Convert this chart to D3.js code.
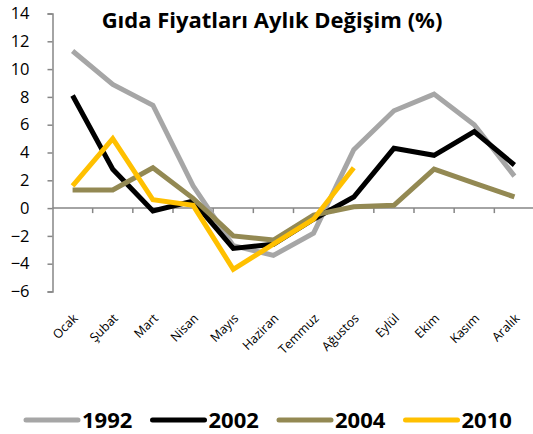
<!DOCTYPE html>
<html>
<head>
<meta charset="utf-8">
<script src="https://cdn.jsdelivr.net/npm/d3@7"></script>
<style>
  body { margin: 0; background: #fff; }
  text { font-family: "Open Sans", sans-serif; }
</style>
</head>
<body>
<div id="chart"></div>
<script>
// months and yearly series (monthly % change)
const months = ['Ocak', 'Şubat', 'Mart', 'Nisan', 'Mayıs', 'Haziran', 'Temmuz', 'Ağustos', 'Eylül', 'Ekim', 'Kasım', 'Aralık'];
const s1992 = [11.3, 8.9, 7.4, 1.6, -2.7, -3.4, -1.8, 4.2, 7.0, 8.2, 6.0, 2.3];
const s2002 = [8.1, 2.8, -0.2, 0.5, -2.9, -2.6, -0.8, 0.8, 4.3, 3.8, 5.5, 3.1];
const s2004 = [1.3, 1.3, 2.9, 0.7, -2.0, -2.3, -0.5, 0.1, 0.2, 2.8, 1.8, 0.8];
const s2010 = [1.6, 5.0, 0.6, 0.2, -4.4, -2.6, -0.8, 2.9];
const yTicks = [-6, -4, -2, 0, 2, 4, 6, 8, 10, 12, 14];

const series = [
  { name: '1992', values: s1992, color: '#A6A6A6' },
  { name: '2002', values: s2002, color: '#000000' },
  { name: '2004', values: s2004, color: '#938953' },
  { name: '2010', values: s2010, color: '#FFC000' }
];

const width = 533, height = 434;
const svg = d3.select('#chart').append('svg')
  .attr('width', width)
  .attr('height', height);

const x = d3.scaleBand().domain(months).range([52.5, 534.5]);
const y = d3.scaleLinear().domain([-6, 14]).range([291.5, 13.5]);

// y axis
const yAxis = svg.append('g')
  .attr('transform', 'translate(52.5,0)')
  .call(d3.axisLeft(y).tickValues(yTicks).tickSize(5).tickPadding(18));
yAxis.select('.domain').attr('stroke', '#868686').attr('stroke-width', 1.5);
yAxis.selectAll('.tick line').attr('stroke', '#868686').attr('stroke-width', 1.5);
yAxis.selectAll('.tick text').attr('font-size', 16.5).attr('fill', '#000')
  .style('font-family', '"Open Sans", sans-serif');

// x axis at zero (category boundary ticks)
const xAxisG = svg.append('g').attr('transform', 'translate(0,' + y(0) + ')');
xAxisG.append('line')
  .attr('x1', x.range()[0]).attr('x2', x.range()[1])
  .attr('stroke', '#868686').attr('stroke-width', 1.5);
xAxisG.selectAll('line.tk')
  .data(months.slice(1))
  .enter().append('line')
  .attr('class', 'tk')
  .attr('x1', d => x(d)).attr('x2', d => x(d))
  .attr('y1', 0).attr('y2', 5)
  .attr('stroke', '#868686').attr('stroke-width', 1.5);

// rotated month labels below the plot
svg.append('g').selectAll('text')
  .data(months)
  .enter().append('text')
  .attr('transform', d => 'translate(' + (x(d) + x.bandwidth() / 2 + 6) + ',319) rotate(-45)')
  .attr('text-anchor', 'end')
  .attr('font-size', 12.5)
  .attr('fill', '#000')
  .text(d => d);

// lines
const line = d3.line()
  .x((d, i) => x(months[i]) + x.bandwidth() / 2)
  .y(d => y(d));

svg.append('g').selectAll('path')
  .data(series)
  .enter().append('path')
  .attr('d', d => line(d.values))
  .attr('fill', 'none')
  .attr('stroke', d => d.color)
  .attr('stroke-width', 5)
  .attr('stroke-linejoin', 'miter');

// title
svg.append('text')
  .attr('x', 272)
  .attr('y', 28)
  .attr('text-anchor', 'middle')
  .attr('font-size', 22)
  .attr('font-weight', 'bold')
  .text('Gıda Fiyatları Aylık Değişim (%)');

// legend
const legend = svg.append('g').selectAll('g')
  .data(series)
  .enter().append('g')
  .attr('transform', (d, i) => 'translate(' + (26 + i * 126.5) + ',420)');
legend.append('line')
  .attr('x1', 0).attr('x2', 52)
  .attr('stroke', d => d.color)
  .attr('stroke-width', 5)
  .attr('stroke-linecap', 'round');
legend.append('text')
  .attr('x', 56)
  .attr('y', 8)
  .attr('font-size', 22)
  .attr('font-weight', 'bold')
  .text(d => d.name);
</script>
</body>
</html>
